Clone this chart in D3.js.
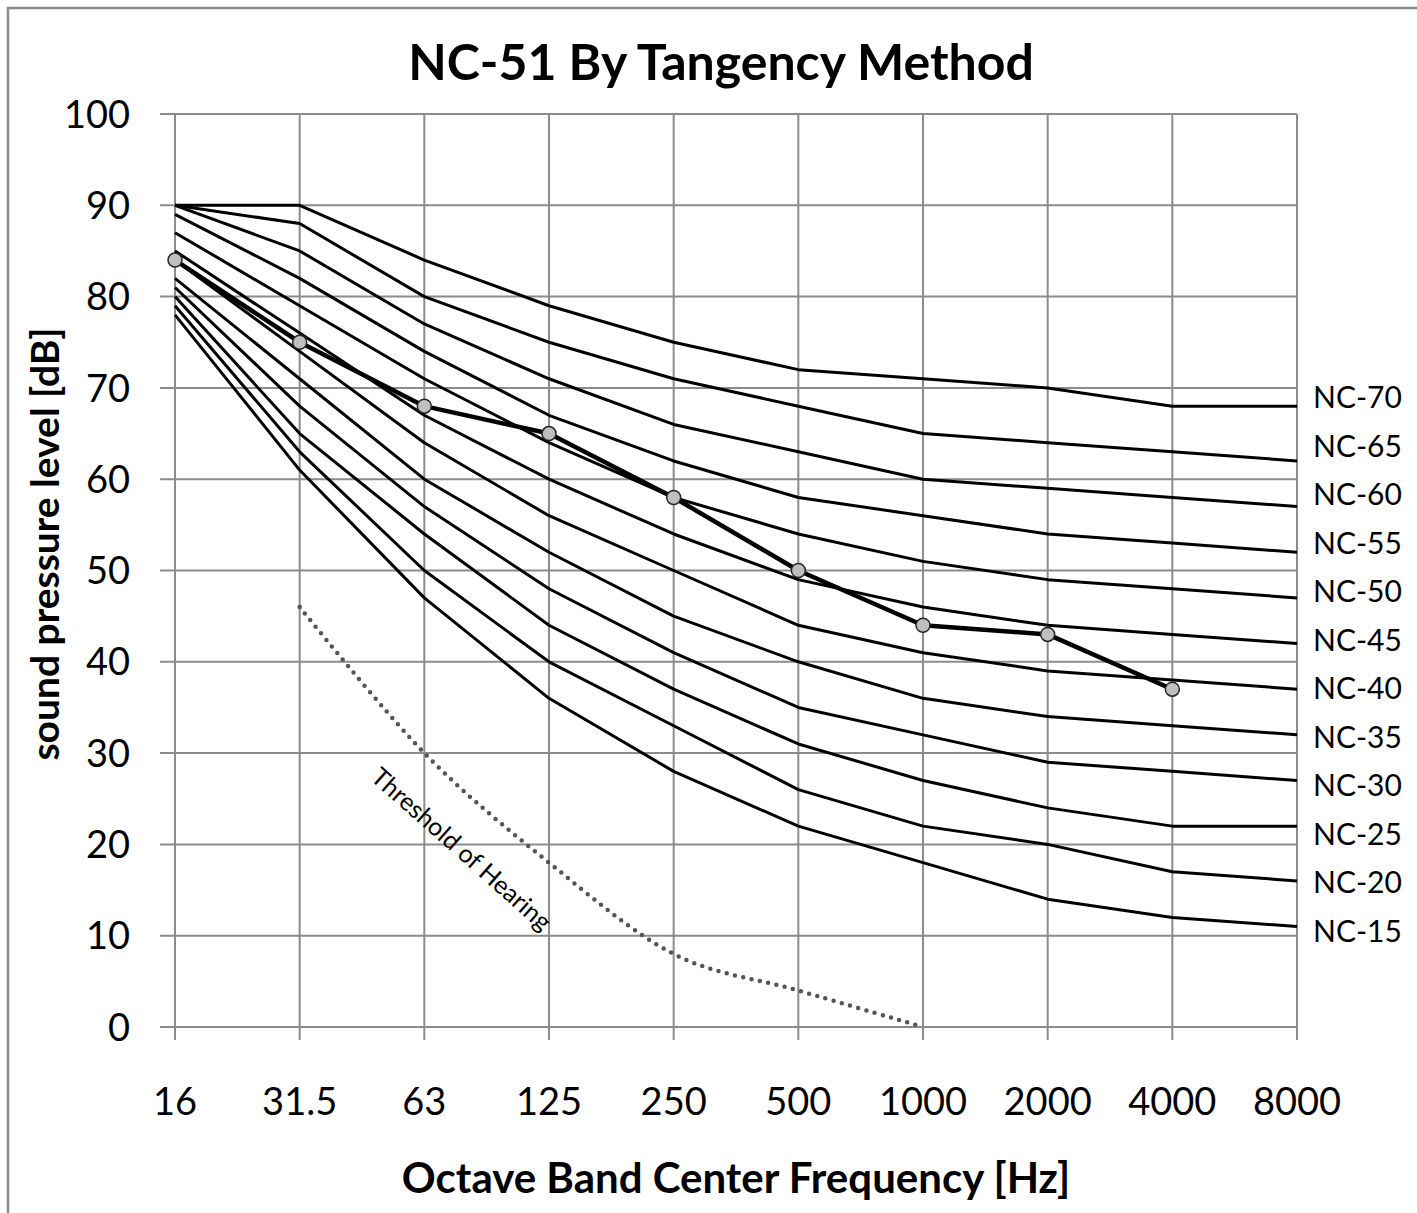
<!DOCTYPE html>
<html>
<head>
<meta charset="utf-8">
<script src="https://cdn.jsdelivr.net/npm/d3@7"></script>
<style>
  body { margin: 0; background: #fff; }
  svg { display: block; font-family: Lato, "Open Sans", sans-serif; }
</style>
</head>
<body>
<svg id="chart" width="1417" height="1213"></svg>
<script>
// octave band centers
var bands = ["16", "31.5", "63", "125", "250", "500", "1000", "2000", "4000", "8000"];

// NC curves, one array per rating
var nc70 = [90, 90, 84, 79, 75, 72, 71, 70, 68, 68];
var nc65 = [90, 88, 80, 75, 71, 68, 65, 64, 63, 62];
var nc60 = [90, 85, 77, 71, 66, 63, 60, 59, 58, 57];
var nc55 = [89, 82, 74, 67, 62, 58, 56, 54, 53, 52];
var nc50 = [87, 79, 71, 64, 58, 54, 51, 49, 48, 47];
var nc45 = [85, 76, 67, 60, 54, 49, 46, 44, 43, 42];
var nc40 = [84, 74, 64, 56, 50, 44, 41, 39, 38, 37];
var nc35 = [82, 71, 60, 52, 45, 40, 36, 34, 33, 32];
var nc30 = [81, 68, 57, 48, 41, 35, 32, 29, 28, 27];
var nc25 = [80, 65, 54, 44, 37, 31, 27, 24, 22, 22];
var nc20 = [79, 63, 50, 40, 33, 26, 22, 20, 17, 16];
var nc15 = [78, 61, 47, 36, 28, 22, 18, 14, 12, 11];
var ncNames = ["NC-70", "NC-65", "NC-60", "NC-55", "NC-50", "NC-45", "NC-40", "NC-35", "NC-30", "NC-25", "NC-20", "NC-15"];

// measured spectrum (16 .. 4000 Hz)
var measured = [84, 75, 68, 65, 58, 50, 44, 43, 37];

// threshold of hearing (31.5 .. 1000 Hz)
var thresholdBands = ["31.5", "63", "125", "250", "500", "1000"];
var threshold = [46, 30, 18, 8, 4, 0];

var yTicks = [0, 10, 20, 30, 40, 50, 60, 70, 80, 90, 100];

var ncCurves = [nc70, nc65, nc60, nc55, nc50, nc45, nc40, nc35, nc30, nc25, nc20, nc15];

var svg = d3.select("#chart");
var width = +svg.attr("width");
var height = +svg.attr("height");
var padding = { top: 114, bottom: 186, left: 175, right: 120 };

var x = d3.scalePoint()
  .domain(bands)
  .range([padding.left, width - padding.right]);
var y = d3.scaleLinear()
  .domain([0, 100])
  .range([height - padding.bottom, padding.top]);

var gridColor = "#8c8c8c";

// outer chart border (only top and left show in the picture)
svg.append("path")
  .attr("d", "M8," + height + "V8H" + width)
  .style("fill", "none")
  .style("stroke", "#8c8c8c")
  .style("stroke-width", 2.5);

// horizontal grid
svg.append("g")
  .selectAll("line")
  .data(yTicks)
  .enter()
  .append("line")
  .attr("x1", padding.left - 15)
  .attr("x2", x("8000"))
  .attr("y1", function (d) { return y(d); })
  .attr("y2", function (d) { return y(d); })
  .style("stroke", gridColor)
  .style("stroke-width", 2);

// vertical grid, running a bit below the 0 line like tick marks
svg.append("g")
  .selectAll("line")
  .data(bands)
  .enter()
  .append("line")
  .attr("x1", function (d) { return x(d); })
  .attr("x2", function (d) { return x(d); })
  .attr("y1", y(100))
  .attr("y2", y(0) + 13)
  .style("stroke", gridColor)
  .style("stroke-width", 2);

// y tick labels
svg.append("g")
  .selectAll("text")
  .data(yTicks)
  .enter()
  .append("text")
  .attr("x", padding.left - 45)
  .attr("y", function (d) { return y(d); })
  .attr("dy", "0.36em")
  .attr("text-anchor", "end")
  .style("font-size", "38px")
  .text(function (d) { return d; });

// x tick labels
svg.append("g")
  .selectAll("text")
  .data(bands)
  .enter()
  .append("text")
  .attr("x", function (d) { return x(d); })
  .attr("y", y(0) + 74)
  .attr("dy", "0.36em")
  .attr("text-anchor", "middle")
  .style("font-size", "38px")
  .text(function (d) { return d; });

var line = d3.line()
  .x(function (d, i) { return x(bands[i]); })
  .y(function (d) { return y(d); });

// threshold of hearing, smoothed dotted curve
var thLine = d3.line()
  .x(function (d, i) { return x(thresholdBands[i]); })
  .y(function (d) { return y(d); })
  .curve(d3.curveCatmullRom.alpha(0));

svg.append("path")
  .attr("d", thLine(threshold))
  .style("fill", "none")
  .style("stroke", "#555")
  .style("stroke-width", 4.5)
  .style("stroke-linecap", "round")
  .style("stroke-dasharray", "0 8.5");

// NC curves
svg.append("g")
  .selectAll("path")
  .data(ncCurves)
  .enter()
  .append("path")
  .attr("d", function (d) { return line(d); })
  .style("fill", "none")
  .style("stroke", "#000")
  .style("stroke-width", 3)
  .style("stroke-linejoin", "round");

// NC labels: start at the end of each curve, then spread so they don't crowd
var labelPos = ncCurves.map(function (c) { return y(c[c.length - 1]); });
var gap = 48.5;
for (var k = 0; k < 200; k++) {
  for (var i = 1; i < labelPos.length; i++) {
    var d = labelPos[i] - labelPos[i - 1];
    if (d < gap) {
      var push = (gap - d) / 2;
      labelPos[i] += push;
      labelPos[i - 1] -= push;
    }
  }
}
svg.append("g")
  .selectAll("text")
  .data(ncNames)
  .enter()
  .append("text")
  .attr("x", x("8000") + 16)
  .attr("y", function (d, i) { return labelPos[i] - 3; })
  .attr("dy", "0.36em")
  .style("font-size", "30px")
  .text(function (d) { return d; });

// measured spectrum
svg.append("path")
  .attr("d", line(measured))
  .style("fill", "none")
  .style("stroke", "#000")
  .style("stroke-width", 4.5)
  .style("stroke-linejoin", "round");

svg.append("g")
  .selectAll("circle")
  .data(measured)
  .enter()
  .append("circle")
  .attr("cx", function (d, i) { return x(bands[i]); })
  .attr("cy", function (d) { return y(d); })
  .attr("r", 7)
  .style("fill", "#bfbfbf")
  .style("stroke", "#262626")
  .style("stroke-width", 1.5);

// threshold label, rotated along the curve
var tx = (x("63") + x("125")) / 2 - 25;
var ty = y(19.5);
svg.append("text")
  .attr("transform", "translate(" + tx + "," + ty + ") rotate(41.5)")
  .attr("text-anchor", "middle")
  .attr("dy", "0.36em")
  .style("font-size", "25px")
  .text("Threshold of Hearing");

// title
svg.append("text")
  .attr("x", 721)
  .attr("y", 62)
  .attr("dy", "0.36em")
  .attr("text-anchor", "middle")
  .style("font-size", "50px")
  .style("font-weight", "bold")
  .text("NC-51 By Tangency Method");

// axis titles
svg.append("text")
  .attr("x", (x("16") + x("8000")) / 2)
  .attr("y", 1178)
  .attr("dy", "0.36em")
  .attr("text-anchor", "middle")
  .style("font-size", "42px")
  .style("font-weight", "bold")
  .text("Octave Band Center Frequency [Hz]");

svg.append("g")
  .attr("transform", "translate(" + 45 + "," + 544 + ") rotate(270)")
  .append("text")
  .attr("text-anchor", "middle")
  .attr("dy", "0.36em")
  .style("font-size", "39px")
  .style("font-weight", "bold")
  .text("sound pressure level [dB]");
</script>
</body>
</html>
